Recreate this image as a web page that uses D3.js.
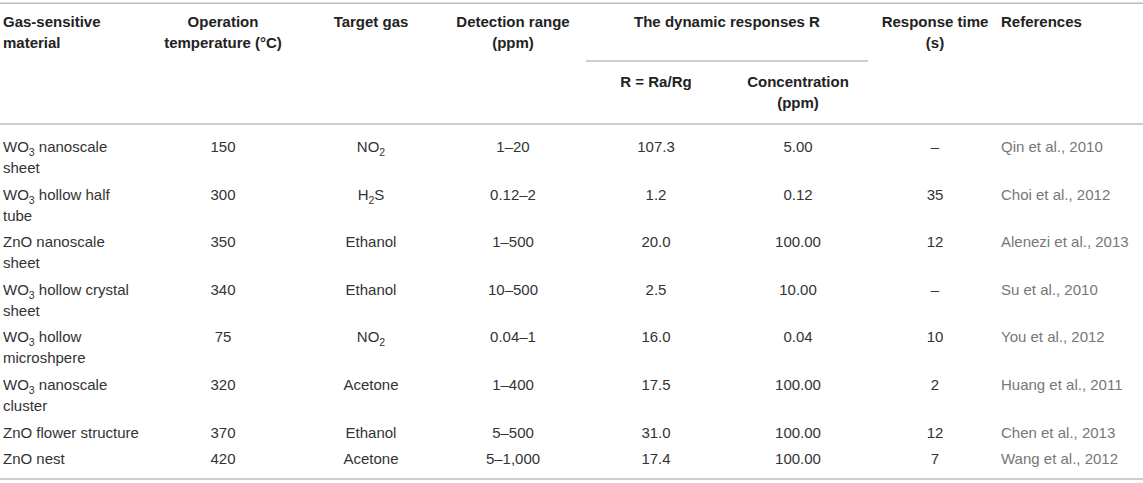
<!DOCTYPE html>
<html>
<head>
<meta charset="utf-8">
<script src="https://cdn.jsdelivr.net/npm/d3@7/dist/d3.min.js"></script>
<style>
  html, body { margin: 0; padding: 0; background: #fff; }
  svg { display: block; }
</style>
</head>
<body>
<svg id="chart" width="1143" height="483"></svg>
<script>
// ---------- DATA ----------
// "_n" marks a subscript digit
const headers = [
  ["Gas-sensitive", "material"],
  ["Operation", "temperature (°C)"],
  ["Target gas"],
  ["Detection range", "(ppm)"],
  ["The dynamic responses R"],
  ["Response time", "(s)"],
  ["References"]
];
const subHeaders = [
  ["R = Ra/Rg"],
  ["Concentration", "(ppm)"]
];
const materials = [
  ["WO_3 nanoscale", "sheet"],
  ["WO_3 hollow half", "tube"],
  ["ZnO nanoscale", "sheet"],
  ["WO_3 hollow crystal", "sheet"],
  ["WO_3 hollow", "microshpere"],
  ["WO_3 nanoscale", "cluster"],
  ["ZnO flower structure"],
  ["ZnO nest"]
];
const temperatures = ["150", "300", "350", "340", "75", "320", "370", "420"];
const targetGases = ["NO_2", "H_2S", "Ethanol", "Ethanol", "NO_2", "Acetone", "Ethanol", "Acetone"];
const detectionRanges = ["1–20", "0.12–2", "1–500", "10–500", "0.04–1", "1–400", "5–500", "5–1,000"];
const responsesR = ["107.3", "1.2", "20.0", "2.5", "16.0", "17.5", "31.0", "17.4"];
const concentrations = ["5.00", "0.12", "100.00", "10.00", "0.04", "100.00", "100.00", "100.00"];
const responseTimes = ["–", "35", "12", "–", "10", "2", "12", "7"];
const references = ["Qin et al., 2010", "Choi et al., 2012", "Alenezi et al., 2013", "Su et al., 2010",
  "You et al., 2012", "Huang et al., 2011", "Chen et al., 2013", "Wang et al., 2012"];

// ---------- LAYOUT ----------
const W = 1143, H = 483;
const FONT = "'Liberation Sans', Arial, Helvetica, sans-serif";
const FS = 15, LINE_H = 21, ROW_PAD = 5.6;
const colKeys = ["mat", "temp", "gas", "range", "r", "conc", "time", "ref"];
const colX = d3.scaleOrdinal().domain(colKeys).range([3, 223, 371, 513, 656, 798, 935, 1001]);
const colAnchor = d3.scaleOrdinal().domain(colKeys).range(["start", "middle", "middle", "middle", "middle", "middle", "middle", "start"]);
const colColor = d3.scaleOrdinal().domain(colKeys).range(["#333", "#333", "#333", "#333", "#333", "#333", "#333", "#777"]);

const rows = materials.map((m, i) => ({
  mat: m, temp: [temperatures[i]], gas: [targetGases[i]], range: [detectionRanges[i]],
  r: [responsesR[i]], conc: [concentrations[i]], time: [responseTimes[i]], ref: [references[i]]
}));

const svg = d3.select("#chart");
const lineColor = "#bdbdbd";

function writeText(g, str) {
  const parts = str.split(/(_\d)/).filter(s => s.length);
  let shifted = false;
  parts.forEach(p => {
    if (/^_\d$/.test(p)) {
      g.append("tspan").attr("font-size", 10.5).attr("dy", 4).text(p.slice(1));
      shifted = true;
    } else {
      g.append("tspan").attr("dy", shifted ? -4 : 0).text(p);
      shifted = false;
    }
  });
}

function cell(x, y, lines, anchor, color, weight) {
  lines.forEach((ln, k) => {
    const t = svg.append("text")
      .attr("x", x).attr("y", y + k * LINE_H)
      .attr("text-anchor", anchor)
      .attr("font-family", FONT)
      .attr("font-size", FS)
      .attr("font-weight", weight)
      .attr("fill", color);
    writeText(t, ln);
  });
}

function hline(x1, x2, y) {
  svg.append("line").attr("x1", x1).attr("x2", x2).attr("y1", y).attr("y2", y)
    .attr("stroke", lineColor).attr("stroke-width", 1.6);
}

// rules
hline(0, W, 3.3);
hline(586, 868, 61);
hline(0, W, 124);

// header
const headerCols = ["mat", "temp", "gas", "range", null, "time", "ref"];
headers.forEach((h, i) => {
  let x, anchor;
  if (i === 4) { x = (586 + 868) / 2; anchor = "middle"; }
  else { x = colX(headerCols[i]); anchor = colAnchor(headerCols[i]); }
  cell(x, 27, h, anchor, "#222", "bold");
});
subHeaders.forEach((h, i) => {
  const k = ["r", "conc"][i];
  cell(colX(k), 87, h, "middle", "#222", "bold");
});

// body
let rowTop = 124;
rows.forEach(row => {
  const nLines = d3.max(colKeys, k => row[k].length);
  const baseline = rowTop + 28;
  colKeys.forEach(k => cell(colX(k), baseline, row[k], colAnchor(k), colColor(k), "normal"));
  rowTop += nLines * LINE_H + ROW_PAD;
});

hline(0, W, 479);
</script>
</body>
</html>
